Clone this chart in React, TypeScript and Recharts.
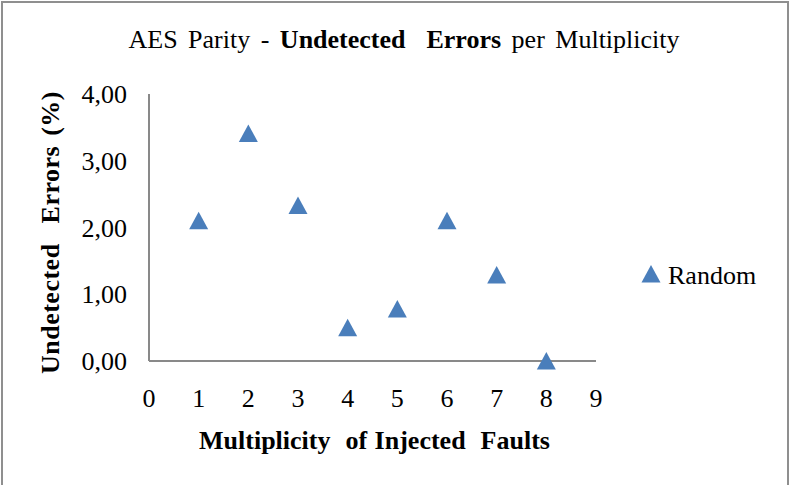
import React from 'react';
import { ScatterChart, Scatter, XAxis, YAxis, Legend } from 'recharts';

const multiplicity = [1, 2, 3, 4, 5, 6, 7, 8];
const undetectedPct = [2.1, 3.41, 2.33, 0.5, 0.78, 2.1, 1.29, 0.0];
const xTicks = [0, 1, 2, 3, 4, 5, 6, 7, 8, 9];
const yTicks = [0, 1, 2, 3, 4];
const seriesName = 'Random';
const titleRegular1 = 'AES Parity - ';
const titleBold = 'Undetected  Errors';
const titleRegular2 = ' per Multiplicity';
const xLabel = 'Multiplicity  of Injected  Faults';
const yLabel = 'Undetected  Errors (%)';

const data = multiplicity.map((m, i) => ({ x: m, y: undetectedPct[i] }));

const FONT = '"Liberation Serif", "Times New Roman", serif';
const BLUE = '#4A7EBB';
const AXIS = '#898989';

const Triangle = (props: any) => {
  const { cx, cy } = props;
  if (cx == null || cy == null) return null;
  return (
    <path
      d={`M${cx},${cy - 9}L${cx + 9.5},${cy + 8.5}L${cx - 9.5},${cy + 8.5}Z`}
      fill={BLUE}
    />
  );
};

const fmt = (v: number) => v.toFixed(2).replace('.', ',');

export default function App() {
  return (
    <div style={{ position: 'absolute', left: 0, top: 0, width: 790, height: 485, overflow: 'hidden', background: '#fff' }}>
      <div
        style={{
          position: 'absolute',
          left: 1,
          top: 1,
          width: 788,
          height: 520,
          border: `2px solid #8f8f8f`,
          boxSizing: 'border-box',
        }}
      />
      <div
        style={{
          position: 'absolute',
          left: 0,
          top: 22,
          width: 808,
          textAlign: 'center',
          fontFamily: FONT,
          fontSize: 26,
          color: '#000',
          whiteSpace: 'pre',
          wordSpacing: 4,
          lineHeight: '36px',
        }}
      >
        {titleRegular1}
        <b>{titleBold}</b>
        {titleRegular2}
      </div>
      <div style={{ position: 'absolute', left: 0, top: 0 }}>
        <ScatterChart
          width={790}
          height={485}
          margin={{ top: 94, right: 194, bottom: 44, left: 49 }}
        >
          <XAxis
            type="number"
            dataKey="x"
            domain={[0, 9]}
            ticks={xTicks}
            interval={0}
            allowDecimals={false}
            height={80}
            tickLine={false}
            tickSize={0}
            tickMargin={28}
            axisLine={{ stroke: AXIS, strokeWidth: 2 }}
            tick={{ fill: '#000', fontSize: 26, fontFamily: FONT }}
            label={{
              content: (p: any) => {
                const vb = p.viewBox || {};
                return (
                  <text
                    x={vb.x + vb.width / 2 + 2}
                    y={vb.y + 88}
                    textAnchor="middle"
                    fontFamily={FONT}
                    fontSize={26}
                    fontWeight="bold"
                    fill="#000"
                    style={{ whiteSpace: 'pre' }}
                    wordSpacing={1}
                  >
                    {xLabel}
                  </text>
                );
              },
            }}
          />
          <YAxis
            type="number"
            dataKey="y"
            domain={[0, 4]}
            ticks={yTicks}
            interval={0}
            width={100}
            tickLine={false}
            tickSize={0}
            tickMargin={22}
            tickFormatter={fmt}
            axisLine={{ stroke: AXIS, strokeWidth: 2 }}
            tick={{ fill: '#000', fontSize: 26, fontFamily: FONT }}
            label={{
              content: (p: any) => {
                const vb = p.viewBox || {};
                const cx = vb.x + 1;
                const cy = vb.y + vb.height / 2 + 5;
                return (
                  <text
                    x={cx}
                    y={cy}
                    transform={`rotate(-90 ${cx} ${cy})`}
                    textAnchor="middle"
                    dominantBaseline="central"
                    fontFamily={FONT}
                    fontSize={26}
                    fontWeight="bold"
                    fill="#000"
                    style={{ whiteSpace: 'pre' }}
                    wordSpacing={3}
                    letterSpacing={0.5}
                  >
                    {yLabel}
                  </text>
                );
              },
            }}
          />
          <Legend
            layout="horizontal"
            verticalAlign="middle"
            align="center"
            wrapperStyle={{ left: 640, top: 261, width: 150, right: 'auto', bottom: 'auto' }}
            content={() => (
              <div style={{ display: 'flex', alignItems: 'center', fontFamily: FONT, fontSize: 26, color: '#000', lineHeight: '30px' }}>
                <svg width={22} height={20} style={{ marginRight: 6, marginTop: -4 }}>
                  <path d="M11,1L20.5,18.5L1.5,18.5Z" fill={BLUE} />
                </svg>
                <span>{seriesName}</span>
              </div>
            )}
          />
          <Scatter
            name={seriesName}
            data={data}
            fill={BLUE}
            shape={Triangle}
            isAnimationActive={false}
          />
        </ScatterChart>
      </div>
    </div>
  );
}
